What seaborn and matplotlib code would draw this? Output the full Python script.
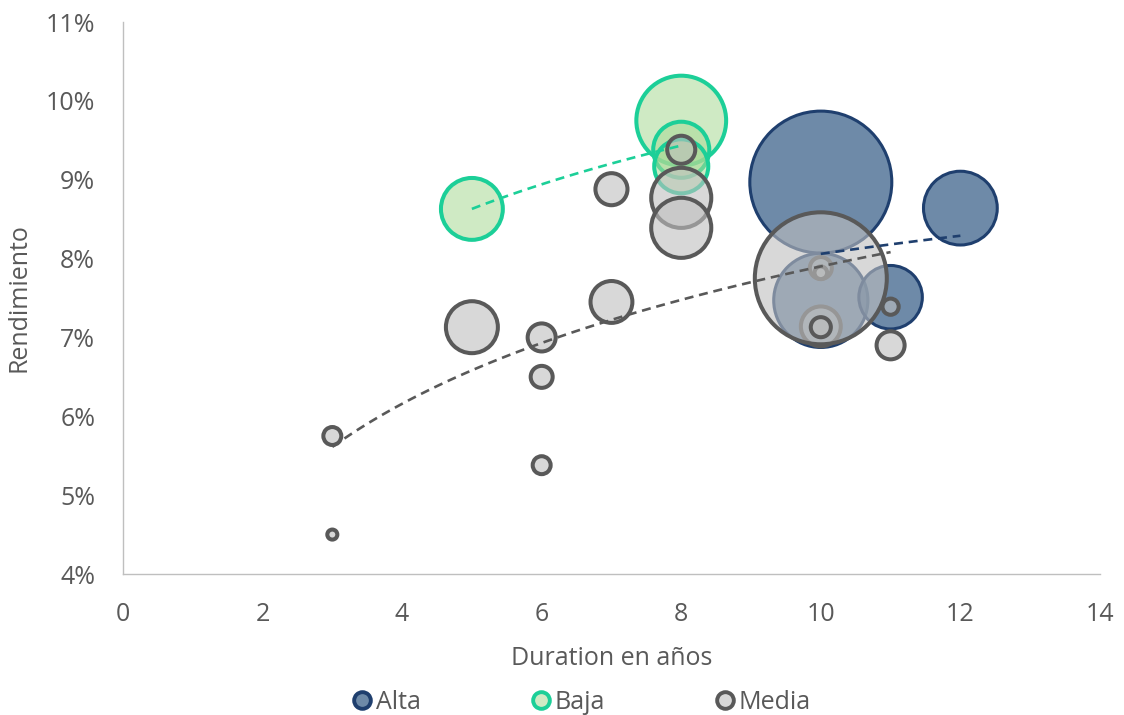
import numpy as np
import pandas as pd
import matplotlib
matplotlib.use("Agg")
import matplotlib.pyplot as plt
from matplotlib.lines import Line2D
from matplotlib.colors import to_rgba
import seaborn as sns

# --- data -------------------------------------------------------------
# Alta
alta_dur = [10, 10, 11, 12]
alta_rend = [8.97, 7.47, 7.51, 8.64]
alta_monto = [100, 44, 20, 27]

# Baja
baja_dur = [8, 5, 8, 8]
baja_rend = [9.75, 8.63, 9.38, 9.17]
baja_monto = [40, 19, 15.6, 14.5]

# Media
media_dur = [3, 3, 5, 6, 6, 6, 7, 7, 8, 8, 8, 10, 10, 10, 10, 10, 11, 11]
media_rend = [5.75, 4.50, 7.13, 7.00, 6.50, 5.38, 7.45, 8.88, 9.38, 8.77, 8.39,
              7.88, 7.82, 7.14, 7.75, 7.13, 7.39, 6.90]
media_monto = [1.6, 0.5, 13.4, 3.9, 2.4, 1.6, 8.7, 5.1, 3.9, 17.9, 17.9,
               2.4, 0.8, 7.9, 86.4, 2.0, 1.3, 3.9]

series_names = ["Alta", "Baja", "Media"]
x_ticks = [0, 2, 4, 6, 8, 10, 12, 14]
y_ticks = [4, 5, 6, 7, 8, 9, 10, 11]

# --- styling ------------------------------------------------------------
styles = {
    "Alta":  dict(fill="#3e638b", alpha=0.75, edge="#1f3f6e", lw=2.2),
    "Baja":  dict(fill="#a8d995", alpha=0.55, edge="#1ccf98", lw=2.9),
    "Media": dict(fill="#bfbfbf", alpha=0.60, edge="#595959", lw=2.9),
}
text_color = "#595959"

sns.set_theme(style="white")
plt.rcParams["font.family"] = ["Open Sans", "DejaVu Sans"]

frames = {
    "Alta": pd.DataFrame({"dur": alta_dur, "rend": alta_rend, "monto": alta_monto}),
    "Baja": pd.DataFrame({"dur": baja_dur, "rend": baja_rend, "monto": baja_monto}),
    "Media": pd.DataFrame({"dur": media_dur, "rend": media_rend, "monto": media_monto}),
}

fig = plt.figure(figsize=(11.24, 7.15), dpi=100)
ax = fig.add_axes([0.1094, 0.1972, 0.8692, 0.7720])

# bubble area proportional to amount
max_monto = 100
max_area = 10450  # pt^2 for the largest bubble

for name in series_names:
    st = styles[name]
    df = frames[name]
    n_before = len(ax.collections)
    sns.scatterplot(data=df, x="dur", y="rend", size="monto",
                    sizes=(0, max_area), size_norm=(0, max_monto),
                    legend=False, ax=ax, zorder=2)
    coll = ax.collections[n_before]
    coll.set_facecolor(to_rgba(st["fill"], st["alpha"]))
    coll.set_edgecolor(st["edge"])
    coll.set_linewidth(st["lw"])

# logarithmic trendlines
for name in ["Media", "Baja", "Alta"]:
    st = styles[name]
    df = frames[name]
    b, a = np.polyfit(np.log(df["dur"]), df["rend"], 1)
    xs = np.linspace(df["dur"].min(), df["dur"].max(), 100)
    ax.plot(xs, a + b * np.log(xs), color=st["edge"], lw=1.9,
            linestyle=(0, (3.4, 2.2)), zorder=5, solid_capstyle="butt")

ax.set_xlim(0, 14)
ax.set_ylim(4, 11)
ax.set_xticks(x_ticks)
ax.set_yticks(y_ticks)
ax.set_xticklabels([str(t) for t in x_ticks])
ax.set_yticklabels([f"{t}%" for t in y_ticks])
ax.tick_params(axis="both", length=0, labelsize=18, colors=text_color)
ax.tick_params(axis="x", pad=20)
ax.tick_params(axis="y", pad=20)
for side in ["top", "right"]:
    ax.spines[side].set_visible(False)
for side in ["left", "bottom"]:
    ax.spines[side].set_color("#bfbfbf")
    ax.spines[side].set_linewidth(1.0)
ax.grid(False)

ax.set_xlabel("Duration en años", fontsize=18, color=text_color, labelpad=14)
ax.set_ylabel("Rendimiento", fontsize=18, color=text_color, labelpad=10)

handles = [
    Line2D([], [], linestyle="none", marker="o", markersize=12,
           markerfacecolor=to_rgba(styles[n]["fill"], styles[n]["alpha"]),
           markeredgecolor=styles[n]["edge"], markeredgewidth=2.8, label=n)
    for n in series_names
]
fig.legend(handles=handles, loc="lower center", bbox_to_anchor=(0.516, -0.021),
           ncol=3, frameon=False, fontsize=18, labelcolor=text_color,
           handletextpad=0.05, columnspacing=4.3, handlelength=1.0,
           borderaxespad=0.2)

fig.savefig("out.png", dpi=100)
